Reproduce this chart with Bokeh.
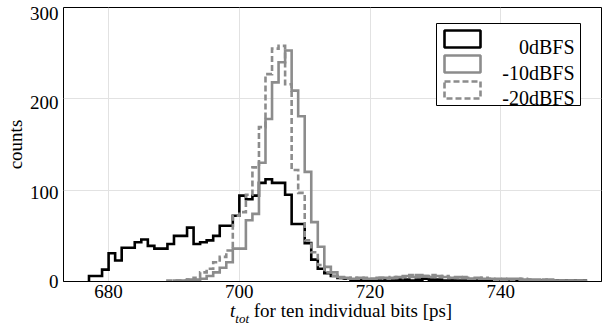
import numpy as np
from bokeh.plotting import figure
from bokeh.layouts import column
from bokeh.models import Range1d, Label, BoxAnnotation, FixedTicker, Div, LinearAxis
from bokeh.embed import file_html
from bokeh.resources import INLINE

# Histogram counts per 1 ps bin; each series starts at its first bin edge (ps)
bin_width = 1
start_0dbfs = 677
counts_0dbfs = [6, 6, 13, 31, 23, 37, 37, 43, 46, 39,
                36, 36, 41, 50, 50, 59, 41, 43, 45, 50,
                61, 61, 72, 94, 90, 94, 108, 112, 108, 108,
                95, 63, 63, 42, 24, 14, 9, 6, 4, 3,
                2, 2, 1, 2, 1, 2, 1, 2, 2, 1,
                2, 3, 2, 2, 1, 2, 1, 1, 2, 1,
                1, 2, 1, 1, 1, 1, 1, 1, 1, 1,
                1, 1, 1, 1, 1, 1]

start_m10dbfs = 690
counts_m10dbfs = [1, 1, 2, 2, 3, 6, 10, 15, 21, 36,
                  36, 67, 74, 130, 178, 218, 240, 253, 209, 181,
                  120, 65, 38, 16, 10, 5, 4, 3, 4, 3,
                  3, 4, 4, 4, 5, 6, 5, 7, 6, 5,
                  6, 5, 4, 5, 4, 3, 4, 3, 3, 3,
                  2, 3, 3, 2, 2, 2, 1, 2, 1, 1,
                  1, 1, 1]

start_m20dbfs = 689
counts_m20dbfs = [1, 1, 1, 2, 4, 10, 14, 21, 27, 34,
                  72, 76, 95, 125, 169, 227, 255, 258, 216, 122,
                  97, 45, 32, 18, 10, 6, 4, 3, 4, 3,
                  4, 3, 4, 3, 5, 4, 5, 7, 5, 6,
                  7, 5, 6, 4, 4, 5, 3, 3, 4, 3,
                  2, 3, 2, 2, 3, 2, 1, 2, 1, 1,
                  1, 1, 1, 1]

series_labels = ["0dBFS", "-10dBFS", "-20dBFS"]
x_ticks = [680, 700, 720, 740]
y_ticks = [0, 100, 200, 300]

FONT = "Liberation Serif"
GREY = "#8c8c8c"


def step_outline(start, counts):
    """Closed step outline of a histogram, starting and ending on zero."""
    edges = start + bin_width * np.arange(len(counts) + 1)
    xs = np.concatenate([[edges[0]], edges])
    ys = np.concatenate([[0], counts, [0]])
    return xs, ys


p = figure(width=604, height=305,
           min_border_left=63, min_border_right=3,
           min_border_top=7, min_border_bottom=24,
           x_range=Range1d(673.1, 755.4), y_range=Range1d(0, 300),
           output_backend="svg", toolbar_location=None)
p.background_fill_color = "white"
p.border_fill_color = "white"
p.outline_line_color = "black"
p.outline_line_width = 1

styles = [
    dict(line_color="black", line_width=2.6),
    dict(line_color=GREY, line_width=2.6),
    dict(line_color=GREY, line_width=2.6, line_dash="6 3"),
]
for (start, counts), st in zip([(start_0dbfs, counts_0dbfs),
                                (start_m10dbfs, counts_m10dbfs),
                                (start_m20dbfs, counts_m20dbfs)], styles):
    xs, ys = step_outline(start, counts)
    p.step(xs, ys, mode="after", line_join="miter", **st)

# x axis
p.xaxis.ticker = FixedTicker(ticks=x_ticks)
xa = p.xaxis[0]
xa.major_tick_out = 0
xa.major_tick_in = 0
xa.minor_tick_out = 0
xa.minor_tick_in = 0
xa.axis_line_color = "black"
xa.major_label_text_font = FONT
xa.major_label_text_font_size = "19px"
xa.major_label_text_color = "black"
xa.major_label_standoff = 3

# the main y axis only carries the grid; its labels sit on a slightly
# stretched companion range so they hang a little below each grid line
p.yaxis.ticker = FixedTicker(ticks=y_ticks)
p.yaxis.visible = False
p.extra_y_ranges = {"labels": Range1d(0, 306.7)}
ya = LinearAxis(y_range_name="labels", ticker=FixedTicker(ticks=y_ticks),
                axis_line_color=None,
                major_tick_out=0, major_tick_in=0,
                minor_tick_out=0, minor_tick_in=0,
                major_label_text_font=FONT,
                major_label_text_font_size="19px",
                major_label_text_color="black",
                major_label_standoff=5,
                axis_label="counts",
                axis_label_text_font=FONT,
                axis_label_text_font_size="19px",
                axis_label_text_font_style="normal",
                axis_label_text_color="black",
                axis_label_standoff=1)
p.add_layout(ya, "left")

p.xgrid.grid_line_color = "#e2e2e2"
p.ygrid.grid_line_color = "#e2e2e2"
p.xgrid.grid_line_width = 1
p.ygrid.grid_line_width = 1

# legend box with outline keys and right-aligned entries
p.add_layout(BoxAnnotation(left=373, right=517, top=258, bottom=176,
                           left_units="screen", right_units="screen",
                           top_units="screen", bottom_units="screen",
                           fill_color="white", fill_alpha=1.0,
                           line_color="black", line_width=1, line_alpha=1.0))
key_rows = [(251, 234, 235), (226, 209, 209), (200, 183, 184)]
for (top, bottom, base), st, lab in zip(key_rows, styles, series_labels):
    p.add_layout(BoxAnnotation(left=381, right=417, top=top, bottom=bottom,
                               left_units="screen", right_units="screen",
                               top_units="screen", bottom_units="screen",
                               fill_color="white", fill_alpha=1.0, line_alpha=1.0,
                               **st))
    p.add_layout(Label(x=511, y=base, x_units="screen", y_units="screen", text=lab,
                       text_font=FONT, text_font_size="20px",
                       text_color="black",
                       text_align="right", text_baseline="alphabetic"))

# x-axis title: italic t with italic subscript "tot", then plain text
xlabel_html = (
    "<div style=\"position:relative; top:-4px; padding-left:230px; "
    "font-family:'Liberation Serif', serif; font-size:19px; line-height:19px; "
    "color:black; white-space:nowrap;\">"
    "<i>t</i><i style=\"font-size:13px; position:relative; top:6px;\">tot</i>"
    " for ten individual bits [ps]</div>"
)
xlabel = Div(text=xlabel_html, width=604, height=26, margin=(0, 0, 0, 0))

layout = column(p, xlabel, spacing=0)
open("out.html", "w").write(file_html(layout, INLINE))
